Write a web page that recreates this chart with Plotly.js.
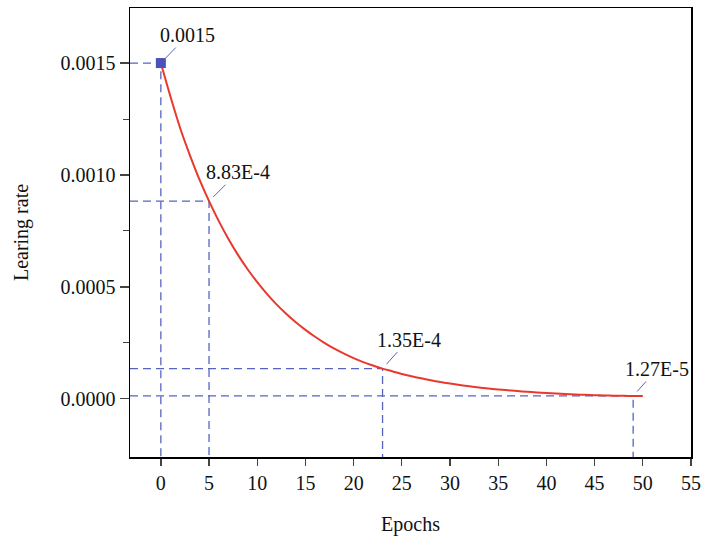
<!DOCTYPE html>
<html>
<head>
<meta charset="utf-8">
<script src="https://cdn.plot.ly/plotly-3.0.1.min.js"></script>
<style>html,body{margin:0;padding:0;background:#fff;}#chart{width:701px;height:539px;}</style>
</head>
<body>
<div id="chart"></div>
<script>
var epochs = [0,1,2,3,4,5,6,7,8,9,10,11,12,13,14,15,16,17,18,19,20,21,22,23,24,25,26,27,28,29,30,31,32,33,34,35,36,37,38,39,40,41,42,43,44,45,46,47,48,49,50];
var learningRate = [0.0015,0.00135,0.00121,0.00109,0.00098,0.000883,0.000795,0.000715,0.000643,0.000579,
  0.000521,0.000469,0.000422,0.000380,0.000342,0.000308,0.000277,0.000249,0.000224,0.000202,
  0.000182,0.000164,0.000149,0.000135,0.000123,0.000111,0.000101,0.0000915,0.0000830,0.0000752,
  0.0000682,0.0000618,0.0000561,0.0000509,0.0000461,0.0000418,0.0000380,0.0000345,0.0000313,0.0000284,
  0.0000258,0.0000234,0.0000213,0.0000194,0.0000177,0.0000162,0.0000149,0.0000139,0.0000132,0.0000127,0.0000122];
var markEpochs = [0, 5, 23, 49];
var markValues = [0.0015, 0.000883, 0.000135, 0.0000127];
var markLabels = ['0.0015', '8.83E-4', '1.35E-4', '1.27E-5'];
var yTickVals = [0, 0.0005, 0.0010, 0.0015];
var yTickText = ['0.0000', '0.0005', '0.0010', '0.0015'];
var yMinorVals = [0.00025, 0.00075, 0.00125];
var xTickVals = [0,5,10,15,20,25,30,35,40,45,50,55];

var xRange = [-3.2, 55];
var yRange = [-0.00026, 0.001746];
var guideColor = '#5763c2';
var font = 'Liberation Serif, Times New Roman, serif';

var traces = [];
markEpochs.forEach(function (ex, i) {
  traces.push({
    x: [xRange[0], ex, ex],
    y: [markValues[i], markValues[i], yRange[0]],
    mode: 'lines',
    line: {color: guideColor, width: 1.3, dash: '8px,5px'},
    hoverinfo: 'skip', showlegend: false
  });
});
traces.push({
  x: epochs, y: learningRate, mode: 'lines',
  line: {color: '#e8392d', width: 2, shape: 'spline'},
  showlegend: false
});
traces.push({
  x: [markEpochs[0]], y: [markValues[0]], mode: 'markers',
  marker: {symbol: 'square', size: 10, color: '#4a52b8'},
  showlegend: false
});

var offsets = [[27, -28], [29, -29], [26, -29], [24, -27]];
var annotations = markEpochs.map(function (ex, i) {
  return {
    x: ex, y: markValues[i], xref: 'x', yref: 'y',
    text: markLabels[i], showarrow: true, arrowhead: 0, arrowwidth: 1,
    arrowcolor: guideColor, ax: offsets[i][0], ay: offsets[i][1], standoff: 6,
    font: {family: font, size: 20, color: '#111'}
  };
});

var layout = {
  width: 701, height: 539,
  margin: {l: 130, r: 10, t: 8, b: 82},
  paper_bgcolor: '#fff', plot_bgcolor: '#fff',
  font: {family: font, size: 20, color: '#111'},
  xaxis: {
    range: xRange, tickvals: xTickVals, ticks: 'outside', ticklen: 7, tickwidth: 1.3,
    showline: true, linewidth: 1.5, linecolor: '#000', mirror: true, showgrid: false, zeroline: false,
    tickfont: {family: font, size: 20},
    title: {text: 'Epochs', font: {family: font, size: 20}, standoff: 24}
  },
  yaxis: {
    range: yRange, tickvals: yTickVals, ticktext: yTickText, ticks: 'outside', ticklen: 9, tickwidth: 1.3,
    showline: true, linewidth: 1.5, linecolor: '#000', mirror: true, showgrid: false, zeroline: false,
    tickfont: {family: font, size: 20},
    minor: {tickvals: yMinorVals, ticks: 'outside', ticklen: 6, tickwidth: 1, showgrid: false},
    title: {text: 'Learing rate', font: {family: font, size: 20}, standoff: 26}
  },
  annotations: annotations
};

Plotly.newPlot('chart', traces, layout, {displayModeBar: false, staticPlot: true});
</script>
</body>
</html>
